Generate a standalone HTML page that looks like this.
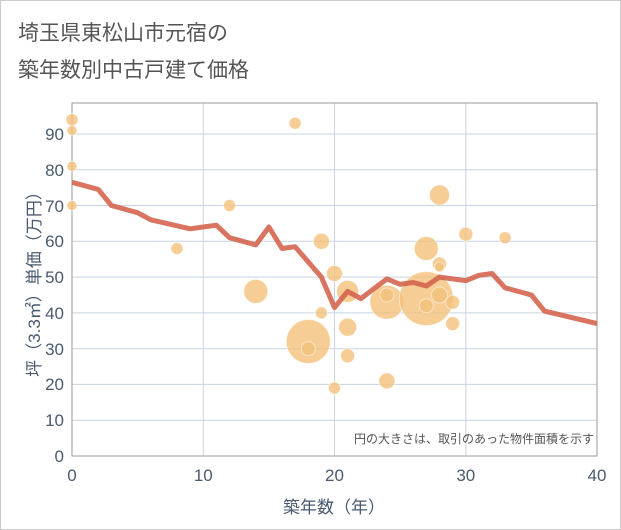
<!DOCTYPE html><html><head><meta charset="utf-8"><style>body{margin:0;background:#fff}svg{display:block}text{font-family:"Liberation Sans","Noto Sans CJK JP",sans-serif}</style></head><body>
<svg width="621" height="530" xmlns="http://www.w3.org/2000/svg">
<rect x="0.5" y="0.5" width="620" height="529" fill="#fff" stroke="#ccc"/>
<text x="18" y="40" font-size="21" fill="#555">埼玉県東松山市元宿の</text>
<text x="18" y="77" font-size="21" fill="#555">築年数別中古戸建て価格</text>
<g stroke="#c8d4e3" stroke-width="1">
<line x1="72" x2="597" y1="420.2" y2="420.2"/><line x1="72" x2="597" y1="384.4" y2="384.4"/><line x1="72" x2="597" y1="348.7" y2="348.7"/><line x1="72" x2="597" y1="312.9" y2="312.9"/><line x1="72" x2="597" y1="277.1" y2="277.1"/><line x1="72" x2="597" y1="241.3" y2="241.3"/><line x1="72" x2="597" y1="205.5" y2="205.5"/><line x1="72" x2="597" y1="169.8" y2="169.8"/><line x1="72" x2="597" y1="134" y2="134"/>
<line x1="203.3" x2="203.3" y1="103" y2="456"/><line x1="334.5" x2="334.5" y1="103" y2="456"/><line x1="465.8" x2="465.8" y1="103" y2="456"/>
</g>
<rect x="72" y="103" width="525" height="353" fill="none" stroke="#999"/>
<g fill="#f2c07a" fill-opacity="0.8" stroke="#fff" stroke-opacity="0.5">
<circle cx="72" cy="119.7" r="6"/><circle cx="72" cy="130.4" r="5"/><circle cx="72" cy="166.2" r="5"/><circle cx="72" cy="205.5" r="5"/>
<circle cx="177" cy="248.5" r="6"/><circle cx="229.5" cy="205.5" r="6"/><circle cx="255.8" cy="291.4" r="12"/><circle cx="295.1" cy="123.2" r="6"/>
<circle cx="308.3" cy="341.5" r="22"/><circle cx="308.3" cy="348.7" r="7"/><circle cx="321.4" cy="241.3" r="8"/><circle cx="321.4" cy="312.9" r="6"/>
<circle cx="334.5" cy="273.5" r="8"/><circle cx="334.5" cy="388" r="6"/><circle cx="347.6" cy="291.4" r="11"/><circle cx="347.6" cy="327.2" r="9"/><circle cx="347.6" cy="355.8" r="7"/>
<circle cx="386.9" cy="302.2" r="17"/><circle cx="386.9" cy="295" r="7"/><circle cx="386.9" cy="380.9" r="8"/>
<circle cx="426.3" cy="248.5" r="12"/><circle cx="426.3" cy="298.6" r="27"/><circle cx="426.3" cy="305.7" r="7"/>
<circle cx="439.5" cy="195" r="10"/><circle cx="439.5" cy="264" r="7"/><circle cx="439.5" cy="267" r="5"/><circle cx="439.5" cy="295" r="8"/>
<circle cx="452.6" cy="302.2" r="7"/><circle cx="452.6" cy="323.6" r="7"/><circle cx="465.8" cy="234.2" r="7"/><circle cx="505.1" cy="237.7" r="6"/>
</g>
<polyline fill="none" stroke="#d4654e" stroke-opacity="0.9" stroke-width="5" stroke-linejoin="round" points="72,182.3 98.3,189.4 111.4,205.5 137.6,212.7 150.8,219.8 190.1,228.8 203.3,227 216.4,225.2 229.5,237.7 255.8,244.9 268.9,227 282,248.5 295.1,246.7 321.4,277.1 334.5,307.5 347.6,291.4 360.8,298.6 386.9,278.9 400.1,284.3 413.3,282.5 426.3,286 439.5,277.1 452.6,278.9 465.8,280.7 478.9,275.3 492,273.5 505.1,287.8 531.4,295 544.5,311.1 597,323.6"/>
<g font-size="17" fill="#4a5a70" text-anchor="end">
<text x="64" y="462">0</text><text x="64" y="426">10</text><text x="64" y="390">20</text><text x="64" y="355">30</text><text x="64" y="319">40</text><text x="64" y="283">50</text><text x="64" y="247">60</text><text x="64" y="212">70</text><text x="64" y="176">80</text><text x="64" y="140">90</text>
</g>
<g font-size="17" fill="#4a5a70" text-anchor="middle">
<text x="72" y="481">0</text><text x="203.3" y="481">10</text><text x="334.5" y="481">20</text><text x="465.8" y="481">30</text><text x="597" y="481">40</text>
<text x="334" y="513">築年数（年）</text>
</g>
<text transform="translate(40,280) rotate(-90)" font-size="17" fill="#4a5a70" text-anchor="middle">坪（3.3㎡）単価（万円）</text>
<text x="594" y="443" font-size="12" fill="#555" text-anchor="end">円の大きさは、取引のあった物件面積を示す</text>
</svg></body></html>
